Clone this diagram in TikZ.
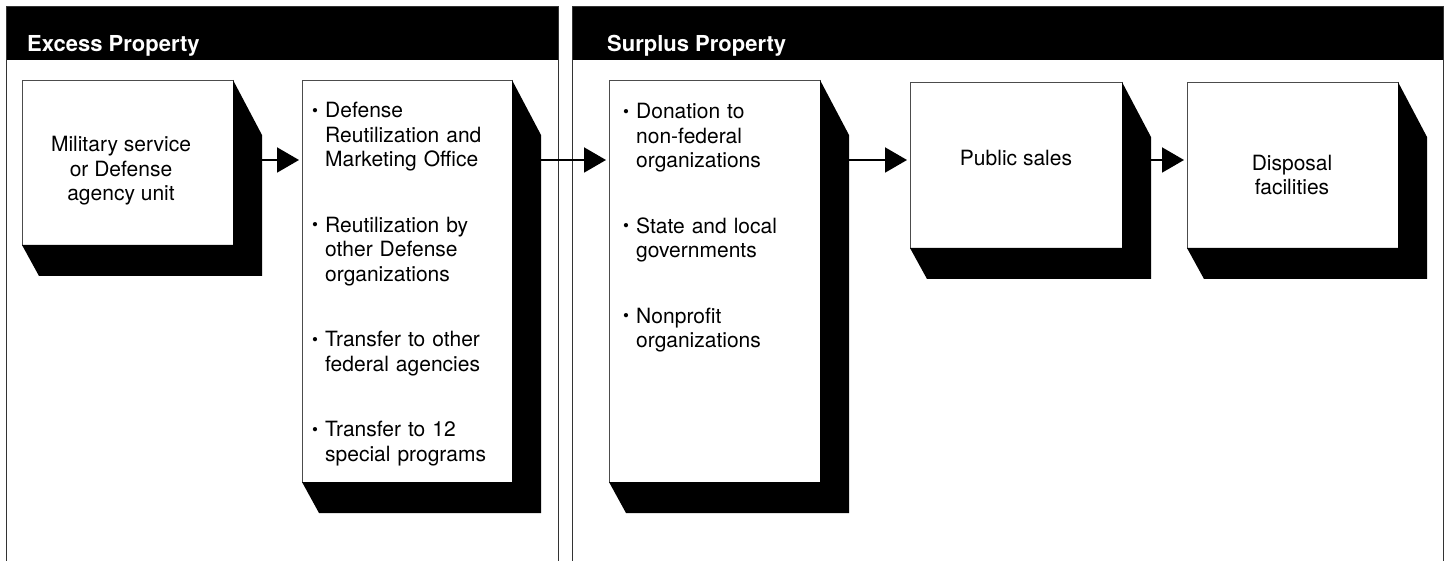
\documentclass[tikz,border=0pt]{standalone}
\usepackage{fontspec}
\setmainfont{TeX Gyre Heros}
\usetikzlibrary{arrows.meta,calc}

% bullet item with hanging indent, and the gap between items
\newcommand\bul{\par\hangindent=13pt\hangafter=1\noindent\strut\makebox[13pt][l]{\raisebox{1.5pt}{\fontsize{17}{17}\selectfont •}}}
\newcommand\gap{\par\vspace{41pt}}

\begin{document}
\begin{tikzpicture}
  [x=1pt,y=-1pt,
   box/.style={draw=black!70,fill=white,line width=0.8pt,inner sep=0,outer sep=0,anchor=north west},
   frame/.style={draw=black!80,line width=0.8pt},
   txt/.style={inner sep=0,font=\fontsize{21}{24.5}\selectfont},
   list/.style={txt,anchor=north west,text width=195pt},
   head/.style={inner sep=0,anchor=base west,text=white,font=\bfseries\fontsize{22}{24}\selectfont},
   arr/.style={line width=2pt,-{Triangle[length=22pt,width=25pt]},shorten >=3pt}]
  \useasboundingbox (0,0) rectangle (1449,561);

  % the two panels
  \fill (6,6) rectangle (558,60);
  \draw[frame] (6,561) -- (6,6) -- (558,6) -- (558,561);
  \fill (572,6) rectangle (1443,60);
  \draw[frame] (572,561) -- (572,6) -- (1443,6) -- (1443,561);
  \node[head] (excessT) at (27,52) {Excess Property};
  \node[head] (surplusT) at (607,52) {Surplus Property};

  % boxes
  \node[box,minimum width=211pt,minimum height=165pt] (mil) at (22,80) {};
  \node[box,minimum width=210pt,minimum height=402pt] (dro) at (302,80) {};
  \node[box,minimum width=211pt,minimum height=402pt] (don) at (609,80) {};
  \node[box,minimum width=212pt,minimum height=166pt] (sale) at (910,82) {};
  \node[box,minimum width=211pt,minimum height=166pt] (disp) at (1187,82) {};

  \foreach \n in {mil,dro,don,sale,disp}
    \fill (\n.north east) -- ++(29,55) -- ($(\n.south east)+(29,31)$)
      -- ($(\n.south west)+(17,31)$) -- (\n.south west) -- (\n.south east) -- cycle;

  % texts
  \node[txt,align=center] (milT) at (121,171) {Military service\\or Defense\\agency unit};
  \node[list] (droT) at (312,92.85) {\raggedright
    \bul Defense\newline Reutilization and\newline Marketing Office\gap
    \bul Reutilization by\newline other Defense\newline organizations\gap
    \bul Transfer to other\newline federal agencies\gap
    \bul Transfer to 12\newline special programs\par};
  \node[list] (donT) at (623,93.85) {\raggedright
    \bul Donation to\newline non-federal\newline organizations\gap
    \bul State and local\newline governments\gap
    \bul Nonprofit\newline organizations\par};
  \node[txt,anchor=base] (saleT) at (1016,166) {Public sales};
  \node[txt,align=center] (dispT) at (1292,175) {Disposal\\facilities};

  % flow
  \coordinate (flowy) at (0,160);
  \foreach \a/\b in {mil/dro,dro/don,don/sale,sale/disp}
    \draw[arr] ([xshift=29pt]\a.east |- flowy) -- (\b.west |- flowy);

\end{tikzpicture}
\end{document}
